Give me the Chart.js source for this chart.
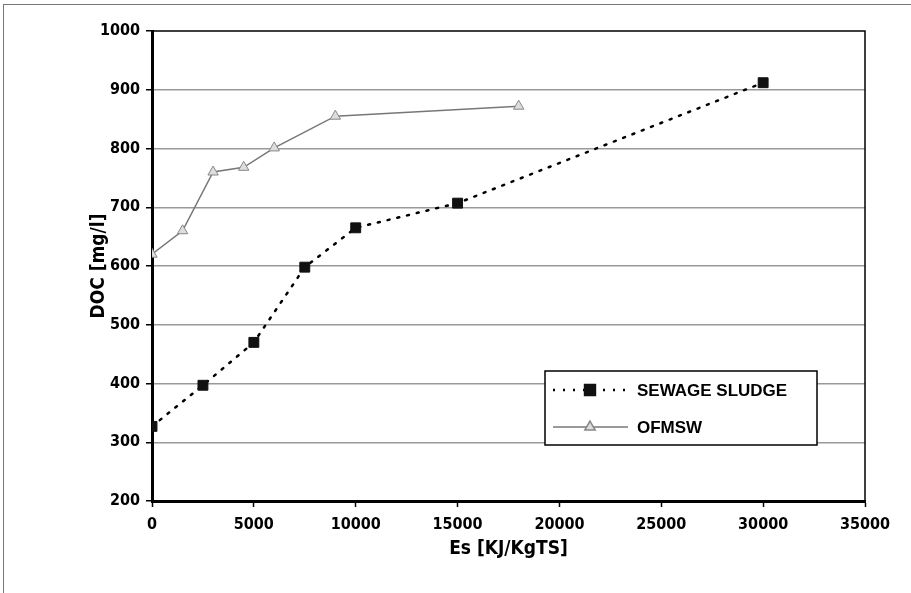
<!DOCTYPE html>
<html>
<head>
<meta charset="utf-8">
<script src="https://cdn.jsdelivr.net/npm/chart.js@4.4.1/dist/chart.umd.min.js"></script>
<style>
  html, body { margin: 0; padding: 0; background: #fff; }
  #wrap { position: relative; width: 911px; height: 593px; overflow: hidden; }
  #frame { position: absolute; left: 3px; top: 4px; width: 1000px; height: 1000px; border: 1px solid #777; }
  canvas { position: absolute; left: 0; top: 0; }
</style>
</head>
<body>
<div id="wrap">
  <div id="frame"></div>
  <canvas id="myChart" width="911" height="593"></canvas>
</div>
<script>
const energyLabels = [0, 5000, 10000, 15000, 20000, 25000, 30000, 35000];

const sludgeEs = [0, 2500, 5000, 7500, 10000, 15000, 30000];
const sludgeDoc = [327, 397, 470, 598, 665, 707, 912];

const ofmswEs = [0, 1500, 3000, 4500, 6000, 9000, 18000];
const ofmswDoc = [620, 660, 760, 768, 801, 855, 872];

const seriesNames = ["SEWAGE SLUDGE", "OFMSW"];

const narrow = "'Liberation Sans Narrow', 'DejaVu Sans Condensed', 'Liberation Sans', sans-serif";

const toPoints = (xs, ys) => xs.map((x, i) => ({ x: x, y: ys[i] }));

// box round the plot area and the legend inside it
const framePlugin = {
  id: "frame",
  afterDraw(chart) {
    const { ctx, chartArea: a } = chart;
    ctx.save();
    ctx.strokeStyle = "#000";
    ctx.lineWidth = 1.5;
    ctx.beginPath();
    ctx.moveTo(a.left, a.top);
    ctx.lineTo(a.right, a.top);
    ctx.lineTo(a.right, a.bottom);
    ctx.stroke();

    // legend
    const box = { x: 545, y: 371, w: 272, h: 74 };
    ctx.fillStyle = "#fff";
    ctx.fillRect(box.x, box.y, box.w, box.h);
    ctx.lineWidth = 1.5;
    ctx.strokeRect(box.x, box.y, box.w, box.h);

    const rows = [390, 427];
    chart.data.datasets.forEach((ds, i) => {
      const y = rows[i];
      ctx.strokeStyle = ds.borderColor;
      ctx.lineWidth = ds.borderWidth;
      ctx.setLineDash(ds.borderDash || []);
      ctx.beginPath();
      ctx.moveTo(553, y);
      ctx.lineTo(628, y);
      ctx.stroke();
      ctx.setLineDash([]);
      ctx.fillStyle = ds.pointBackgroundColor;
      ctx.strokeStyle = ds.pointBorderColor;
      Chart.helpers.drawPoint(ctx, {
        pointStyle: ds.pointStyle,
        radius: ds.pointRadius,
        borderWidth: 1,
        rotation: 0,
      }, 590, y);
      ctx.fillStyle = "#000";
      ctx.font = "bold 17px 'Liberation Sans', Arial, sans-serif";
      ctx.textBaseline = "middle";
      ctx.fillText(seriesNames[i], 637, y + 1);
    });
    ctx.restore();
  },
};

const ctx = document.getElementById("myChart");

const myChart = new Chart(ctx, {
  type: "line",

  data: {
    datasets: [
      {
        label: seriesNames[0],
        data: toPoints(sludgeEs, sludgeDoc),
        borderColor: "#000",
        borderWidth: 2.5,
        borderDash: [2, 8],
        borderCapStyle: "round",
        pointStyle: "rect",
        pointRadius: 7,
        pointBackgroundColor: "#111",
        pointBorderColor: "#111",
        pointBorderWidth: 1,
      },
      {
        label: seriesNames[1],
        data: toPoints(ofmswEs, ofmswDoc),
        borderColor: "#777",
        borderWidth: 1.5,
        pointStyle: "triangle",
        pointRadius: 6,
        pointBackgroundColor: "#ddd",
        pointBorderColor: "#888",
        pointBorderWidth: 1,
      },
    ],
  },

  options: {
    responsive: false,
    animation: false,
    layout: {
      padding: { left: 88, top: 31, right: 46, bottom: 33 },
    },

    plugins: {
      legend: { display: false },
      tooltip: { enabled: false },
    },

    scales: {
      x: {
        type: "linear",
        min: 0,
        max: 35000,
        afterBuildTicks: (scale) => {
          scale.ticks = energyLabels.map((v) => ({ value: v }));
        },
        afterFit: (scale) => {
          scale.height = 59;
        },
        grid: {
          drawOnChartArea: false,
          tickLength: 6,
          tickColor: "#000",
          tickWidth: 1.5,
        },
        border: { color: "#000", width: 3 },
        ticks: {
          color: "#000",
          padding: 8,
          maxRotation: 0,
          callback: (v) => String(v),
          font: { family: narrow, size: 16, weight: "bold" },
        },
        title: {
          display: true,
          text: "Es [KJ/KgTS]",
          color: "#000",
          padding: { top: 0, bottom: 0 },
          font: { family: narrow, size: 19, weight: "bold" },
        },
      },

      y: {
        min: 200,
        max: 1000,
        ticks: {
          stepSize: 100,
          color: "#000",
          padding: 6,
          callback: (v) => String(v),
          font: { family: narrow, size: 16, weight: "bold" },
        },
        afterFit: (scale) => {
          scale.width = 64;
        },
        grid: {
          color: (c) =>
            c.tick && (c.tick.value === 200 || c.tick.value === 1000) ? "rgba(0,0,0,0)" : "#999",
          lineWidth: 1.5,
          tickLength: 6,
          tickColor: "#000",
          tickWidth: 1.5,
        },
        border: { color: "#000", width: 3 },
        title: {
          display: true,
          text: "DOC [mg/l]",
          color: "#000",
          padding: { top: 0, bottom: 0 },
          font: { family: narrow, size: 19, weight: "bold" },
        },
      },
    },
  },

  plugins: [framePlugin],
});
</script>
</body>
</html>
